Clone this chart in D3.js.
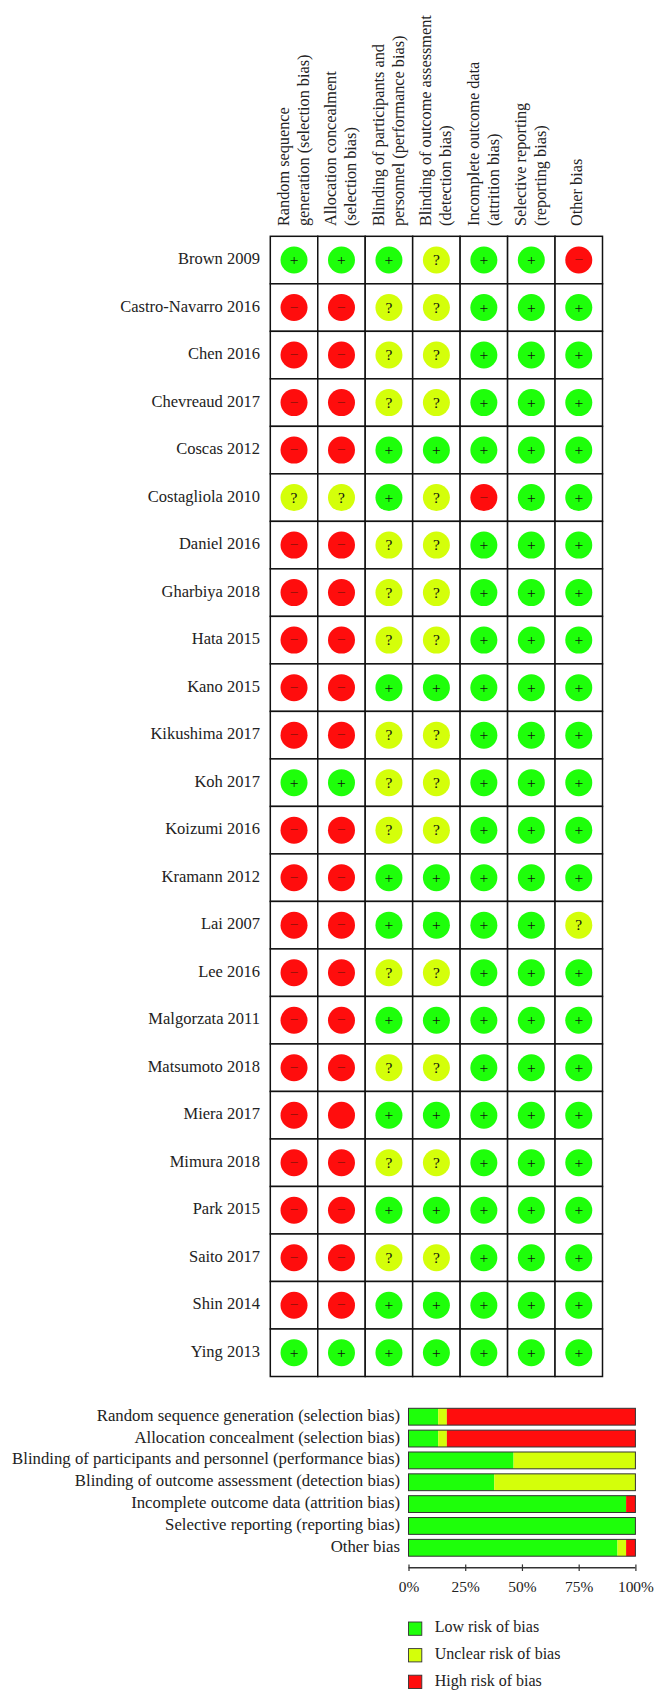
<!DOCTYPE html>
<html>
<head>
<meta charset="utf-8">
<script src="https://cdn.jsdelivr.net/npm/d3@7"></script>
<style>
  html, body { margin: 0; padding: 0; background: #fff; }
  svg { display: block; }
  text { font-family: "Liberation Serif", serif; fill: #222; }
</style>
</head>
<body>
<div class="canvas"></div>
<script>
const studies = ['Brown 2009', 'Castro-Navarro 2016', 'Chen 2016', 'Chevreaud 2017', 'Coscas 2012',
    'Costagliola 2010', 'Daniel 2016', 'Gharbiya 2018', 'Hata 2015', 'Kano 2015', 'Kikushima 2017',
    'Koh 2017', 'Koizumi 2016', 'Kramann 2012', 'Lai 2007', 'Lee 2016', 'Malgorzata 2011',
    'Matsumoto 2018', 'Miera 2017', 'Mimura 2018', 'Park 2015', 'Saito 2017', 'Shin 2014', 'Ying 2013'];

const columnHeads = [
    ['Random sequence', 'generation (selection bias)'],
    ['Allocation concealment', '(selection bias)'],
    ['Blinding of participants and', 'personnel (performance bias)'],
    ['Blinding of outcome assessment', '(detection bias)'],
    ['Incomplete outcome data', '(attrition bias)'],
    ['Selective reporting', '(reporting bias)'],
    ['Other bias']
];

// rows of the grid, same order as studies (+ low, ? unclear, - high)
// Miera col 2 is red but has no minus in the original: written as x
const judgements = [
    '+++?++-', '--??+++', '--??+++', '--??+++', '--+++++', '??+?-++', '--??+++', '--??+++',
    '--??+++', '--+++++', '--??+++', '++??+++', '--??+++', '--+++++', '--++++?', '--??+++',
    '--+++++', '--??+++', '-x+++++', '--??+++', '--+++++', '--??+++', '--+++++', '+++++++'
];

const domains = ['Random sequence generation (selection bias)', 'Allocation concealment (selection bias)',
    'Blinding of participants and personnel (performance bias)', 'Blinding of outcome assessment (detection bias)',
    'Incomplete outcome data (attrition bias)', 'Selective reporting (reporting bias)', 'Other bias'];
const lowPct     = [13.1, 13.1, 46.3, 37.8, 95.9, 100, 92.1];
const unclearPct = [3.8, 3.8, 53.7, 62.2, 0, 0, 3.8];
const highPct    = [83.1, 83.1, 0, 0, 4.1, 0, 4.1];

const riskNames = ['Low risk of bias', 'Unclear risk of bias', 'High risk of bias'];
const riskKeys = ['+', '?', '-'];
const riskGlyph = { '+': '+', '?': '?', '-': '\u2212', x: '' };
const axisTicks = [0, 25, 50, 75, 100];

const colour = d3.scaleOrdinal().domain(riskKeys).range(['#1eff0a', '#d4ff0a', '#ff0d0d']);
const fillFor = v => colour(v === 'x' ? '-' : v);

const svg = d3.select('.canvas').append('svg')
    .attr('width', 666)
    .attr('height', 1703);

// --- grid ---
const x = d3.scaleBand().domain(d3.range(columnHeads.length)).range([270.3, 602.5]);
const y = d3.scaleBand().domain(studies).range([236.3, 1376.5]);

const grid = svg.append('g');

const cells = studies.flatMap((s, r) => columnHeads.map((c, i) => ({ study: s, col: i, val: judgements[r][i] })));

grid.selectAll('rect.cell').data(cells).enter().append('rect')
    .attr('class', 'cell')
    .attr('x', d => x(d.col))
    .attr('y', d => y(d.study))
    .attr('width', x.bandwidth())
    .attr('height', y.bandwidth())
    .attr('fill', 'white')
    .attr('stroke', '#111')
    .attr('stroke-width', 1.5);

grid.selectAll('circle').data(cells).enter().append('circle')
    .attr('cx', d => x(d.col) + x.bandwidth() / 2)
    .attr('cy', d => y(d.study) + y.bandwidth() / 2)
    .attr('r', 13.5)
    .attr('fill', d => fillFor(d.val));

grid.selectAll('text.glyph').data(cells).enter().append('text')
    .attr('class', 'glyph')
    .attr('x', d => x(d.col) + x.bandwidth() / 2)
    .attr('y', d => y(d.study) + y.bandwidth() / 2 + 5)
    .attr('text-anchor', 'middle')
    .attr('font-size', 15.5)
    .style('fill', d => d.val === '-' ? '#8c1208' : '#111')
    .text(d => riskGlyph[d.val]);

grid.selectAll('text.study').data(studies).enter().append('text')
    .attr('class', 'study')
    .attr('x', 260)
    .attr('y', d => y(d) + y.bandwidth() / 2 + 4)
    .attr('text-anchor', 'end')
    .attr('font-size', 16.5)
    .text(d => d);

// rotated column heads
columnHeads.forEach((lines, i) => {
    const head = svg.append('g')
        .attr('transform', `translate(${x(i) + (lines.length === 1 ? 27.3 : 18.4)}, 226) rotate(-90)`);
    lines.forEach((line, k) => {
        head.append('text')
            .attr('y', k * 20)
            .attr('font-size', 16.25)
            .text(line);
    });
});

// --- summary bars ---
const bx = d3.scaleLinear().domain([0, 100]).range([408.5, 635.4]);
const by = d3.scaleBand().domain(domains).range([1408.3, 1556.2]).paddingInner(0.23).paddingOuter(0);

const rows = domains.map((d, i) => ({ domain: d, '+': lowPct[i], '?': unclearPct[i], '-': highPct[i] }));
const stacked = d3.stack().keys(riskKeys)(rows);

const bars = svg.append('g');
bars.selectAll('g').data(stacked).enter().append('g')
    .attr('fill', s => colour(s.key))
    .selectAll('rect').data(s => s).enter().append('rect')
    .attr('x', d => bx(d[0]))
    .attr('y', d => by(d.data.domain))
    .attr('width', d => bx(d[1]) - bx(d[0]))
    .attr('height', by.bandwidth());

bars.selectAll('rect.frame').data(domains).enter().append('rect')
    .attr('class', 'frame')
    .attr('x', bx(0))
    .attr('y', d => by(d))
    .attr('width', bx(100) - bx(0))
    .attr('height', by.bandwidth())
    .attr('fill', 'none')
    .attr('stroke', '#333')
    .attr('stroke-width', 1);

bars.selectAll('text.domain').data(domains).enter().append('text')
    .attr('class', 'domain')
    .attr('x', 400)
    .attr('y', d => by(d) + by.bandwidth() / 2 + 4)
    .attr('text-anchor', 'end')
    .attr('font-size', 16.75)
    .text(d => d);

const axis = svg.append('g')
    .attr('transform', 'translate(0, 1567.7)')
    .call(d3.axisBottom(bx).tickValues(axisTicks).tickFormat(d => d + '%').tickSize(3.3));
axis.selectAll('line').attr('stroke', '#333').attr('stroke-width', 1.2).attr('y1', -3.3);
axis.select('.domain').attr('d', `M${bx(0)},0H${bx(100)}`).attr('stroke', '#333').attr('stroke-width', 1.6);
axis.selectAll('text')
    .attr('y', 24)
    .attr('dy', 0)
    .attr('font-size', 15.4)
    .attr('font-family', '"Liberation Serif", serif');

// --- legend ---
const legendGroup = svg.append('g').attr('transform', 'translate(408.5, 1622)');
const legendRow = legendGroup.selectAll('g').data(riskNames).enter().append('g')
    .attr('transform', (d, i) => `translate(0, ${i * 26.6})`);
legendRow.append('rect')
    .attr('width', 13.3)
    .attr('height', 13.3)
    .attr('fill', (d, i) => colour(riskKeys[i]))
    .attr('stroke', '#333')
    .attr('stroke-width', 0.9);
legendRow.append('text')
    .attr('x', 26.2)
    .attr('y', 10.4)
    .attr('font-size', 16)
    .text(d => d);
</script>
</body>
</html>
